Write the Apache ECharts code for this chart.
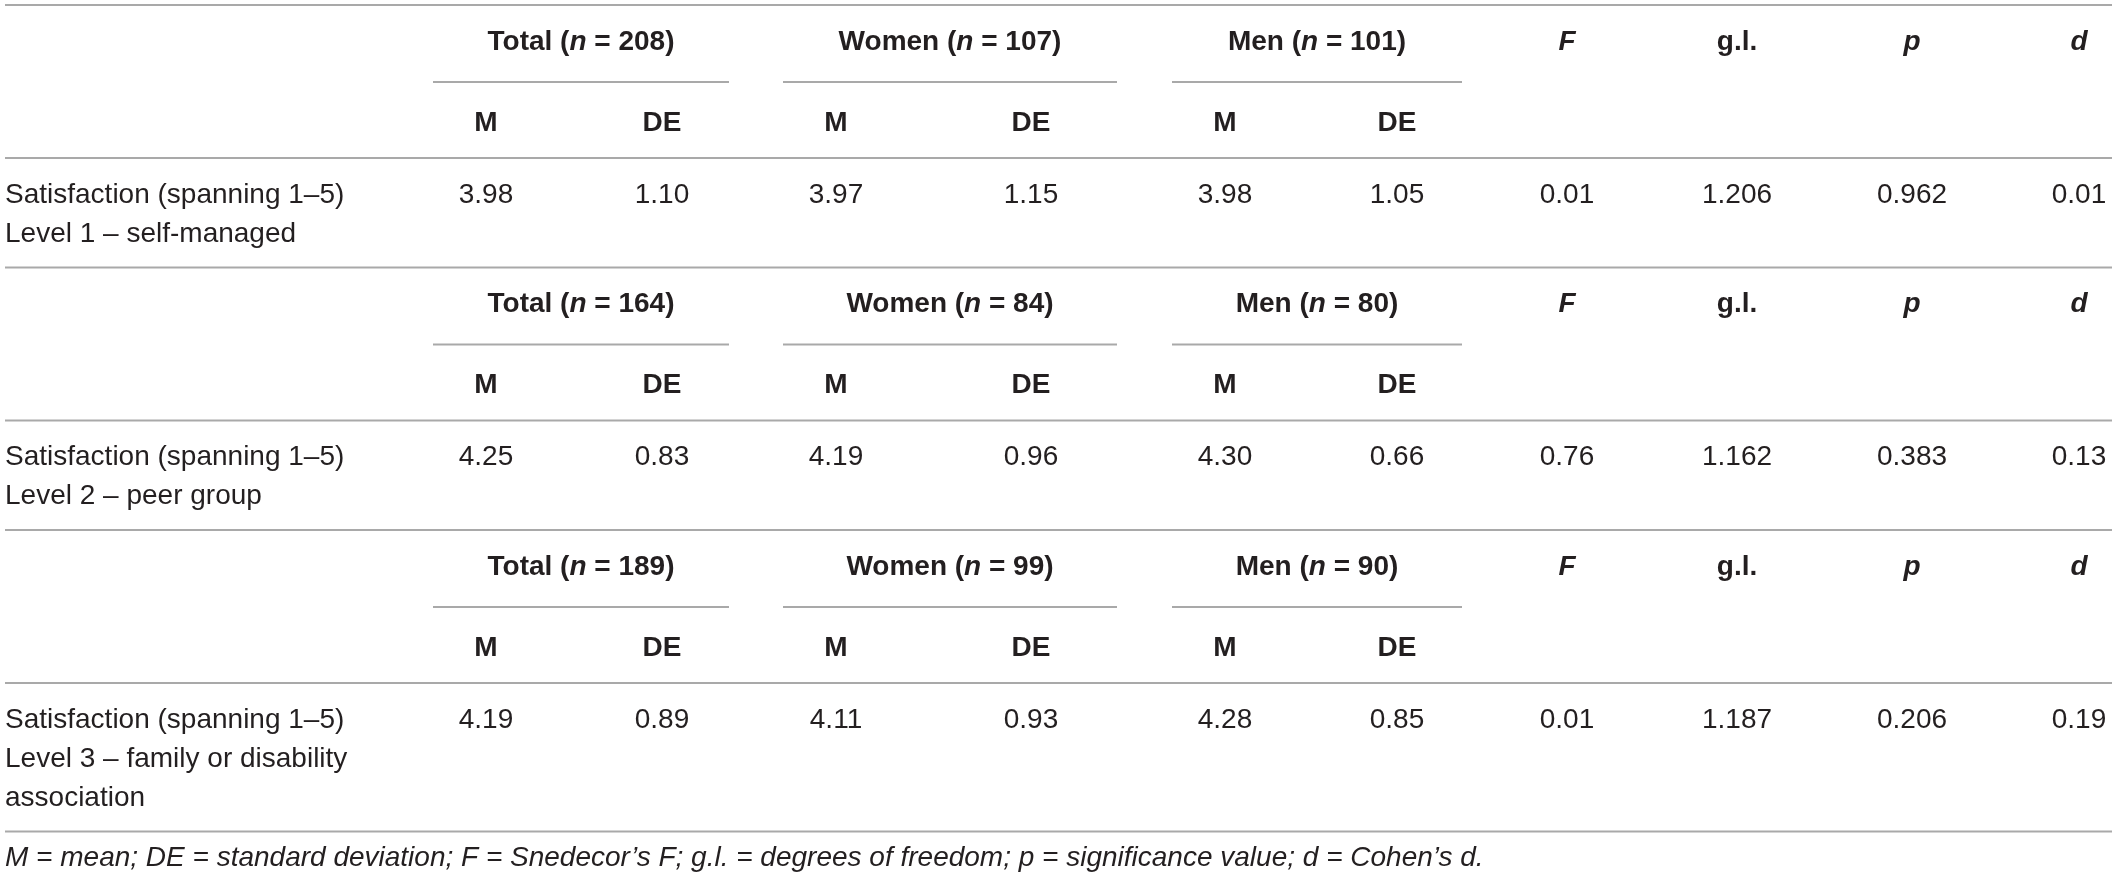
<!DOCTYPE html>
<html>
<head>
<meta charset="utf-8">
<script src="https://cdn.jsdelivr.net/npm/echarts@6/dist/echarts.min.js"></script>
<style>
html,body{margin:0;padding:0;background:#ffffff;}
#chart{width:2117px;height:883px;}
</style>
</head>
<body>
<div id="chart"></div>
<script>
// ---------------- DATA ----------------
const groupNames = ['Total', 'Women', 'Men'];
const groupSizes = [[208, 107, 101], [164, 84, 80], [189, 99, 90]];
const statHeaders = ['M', 'DE'];
const testHeaders = ['F', 'g.l.', 'p', 'd'];
const testHeaderItalic = [true, false, true, true];
const rowLabels = [
  ['Satisfaction (spanning 1–5)', 'Level 1 – self-managed'],
  ['Satisfaction (spanning 1–5)', 'Level 2 – peer group'],
  ['Satisfaction (spanning 1–5)', 'Level 3 – family or disability', 'association']
];
const meanValues = [[3.98, 3.97, 3.98], [4.25, 4.19, 4.30], [4.19, 4.11, 4.28]];
const sdValues = [[1.10, 1.15, 1.05], [0.83, 0.96, 0.66], [0.89, 0.93, 0.85]];
const fValues = [0.01, 0.76, 0.01];
const glValues = ['1.206', '1.162', '1.187'];
const pValues = [0.962, 0.383, 0.206];
const dValues = [0.01, 0.13, 0.19];
const footnote = 'M = mean; DE = standard deviation; F = Snedecor’s F; g.l. = degrees of freedom; p = significance value; d = Cohen’s d.';

// ---------------- LAYOUT (positions / styles) ----------------
const W = 2117, H = 883;
const labelX = 5;
const ruleSpan = [5, 2112];
const statColX = [[486, 662], [836, 1031], [1225, 1397]];
const groupSpan = [[433, 729], [783, 1117], [1172, 1462]];
const testColX = [1567, 1737, 1912, 2079];
const firstTop = 5;
const off = { header: 37, underline: 77, sub: 118, rule: 153, data: 190 };
const lineStep = 39;
const sectionPad = 33.5;
const FONT = "'Liberation Sans', Arial, Helvetica, sans-serif";
const FS = 28;
const TEXT = '#231f20';
const LINE = '#a9a9a9';

// ---------------- BUILD ELEMENTS ----------------
const texts = [];
const rules = [];
let secTop = firstTop;
rules.push({ x1: ruleSpan[0], x2: ruleSpan[1], y: secTop });
for (let s = 0; s < rowLabels.length; s++) {
  for (let g = 0; g < groupNames.length; g++) {
    const cx = (groupSpan[g][0] + groupSpan[g][1]) / 2;
    texts.push({
      x: cx, y: secTop + off.header, align: 'center',
      text: '{b|' + groupNames[g] + ' (}{bi|n}{b| = ' + groupSizes[s][g] + ')}'
    });
    rules.push({ x1: groupSpan[g][0], x2: groupSpan[g][1], y: secTop + off.underline });
    for (let k = 0; k < statHeaders.length; k++) {
      texts.push({ x: statColX[g][k], y: secTop + off.sub, align: 'center', text: '{b|' + statHeaders[k] + '}' });
    }
  }
  for (let t = 0; t < testHeaders.length; t++) {
    texts.push({
      x: testColX[t], y: secTop + off.header, align: 'center',
      text: '{' + (testHeaderItalic[t] ? 'bi' : 'b') + '|' + testHeaders[t] + '}'
    });
  }
  rules.push({ x1: ruleSpan[0], x2: ruleSpan[1], y: secTop + off.rule });
  const dy = secTop + off.data;
  rowLabels[s].forEach((lab, li) => {
    texts.push({ x: labelX, y: dy + li * lineStep, align: 'left', text: '{r|' + lab + '}' });
  });
  for (let g = 0; g < groupNames.length; g++) {
    texts.push({ x: statColX[g][0], y: dy, align: 'center', text: '{r|' + meanValues[s][g].toFixed(2) + '}' });
    texts.push({ x: statColX[g][1], y: dy, align: 'center', text: '{r|' + sdValues[s][g].toFixed(2) + '}' });
  }
  const tv = [fValues[s].toFixed(2), glValues[s], pValues[s].toFixed(3), dValues[s].toFixed(2)];
  tv.forEach((v, t) => texts.push({ x: testColX[t], y: dy, align: 'center', text: '{r|' + v + '}' }));
  secTop = secTop + off.data + (rowLabels[s].length - 1) * lineStep + sectionPad;
  rules.push({ x1: ruleSpan[0], x2: ruleSpan[1], y: secTop });
}
texts.push({ x: labelX, y: secTop + 27, align: 'left', text: '{i|' + footnote + '}' });

const rich = {
  r: { fontSize: FS, fontFamily: FONT, fill: TEXT, color: TEXT },
  i: { fontSize: FS, fontFamily: FONT, fontStyle: 'italic', fill: TEXT, color: TEXT },
  b: { fontSize: FS, fontFamily: FONT, fontWeight: 'bold', fill: TEXT, color: TEXT },
  bi: { fontSize: FS, fontFamily: FONT, fontWeight: 'bold', fontStyle: 'italic', fill: TEXT, color: TEXT }
};

// ---------------- CHART ----------------
const chart = echarts.init(document.getElementById('chart'), null, { renderer: 'canvas' });
chart.setOption({
  animation: false,
  backgroundColor: '#ffffff',
  grid: { left: 0, right: 0, top: 0, bottom: 0 },
  xAxis: { type: 'value', min: 0, max: W, show: false },
  yAxis: { type: 'value', min: 0, max: H, inverse: true, show: false },
  tooltip: { show: false },
  series: [
    {
      type: 'custom',
      coordinateSystem: 'cartesian2d',
      silent: true,
      data: rules.map(r => [r.x1, r.y, r.x2, r.y]),
      encode: { x: [0, 2], y: [1, 3] },
      renderItem: function (params, api) {
        const a = api.coord([api.value(0), api.value(1)]);
        const b = api.coord([api.value(2), api.value(3)]);
        return {
          type: 'line',
          shape: { x1: a[0], y1: a[1], x2: b[0], y2: b[1] },
          style: { stroke: LINE, lineWidth: 2 }
        };
      }
    },
    {
      type: 'custom',
      coordinateSystem: 'cartesian2d',
      silent: true,
      data: texts.map(t => [t.x, t.y]),
      encode: { x: 0, y: 1 },
      renderItem: function (params, api) {
        const item = texts[params.dataIndex];
        const p = api.coord([api.value(0), api.value(1)]);
        return {
          type: 'text',
          x: p[0], y: p[1],
          style: {
            text: item.text,
            rich: rich,
            fontSize: FS,
            fontFamily: FONT,
            fill: TEXT,
            align: item.align,
            verticalAlign: 'middle'
          }
        };
      }
    }
  ]
});
</script>
</body>
</html>
